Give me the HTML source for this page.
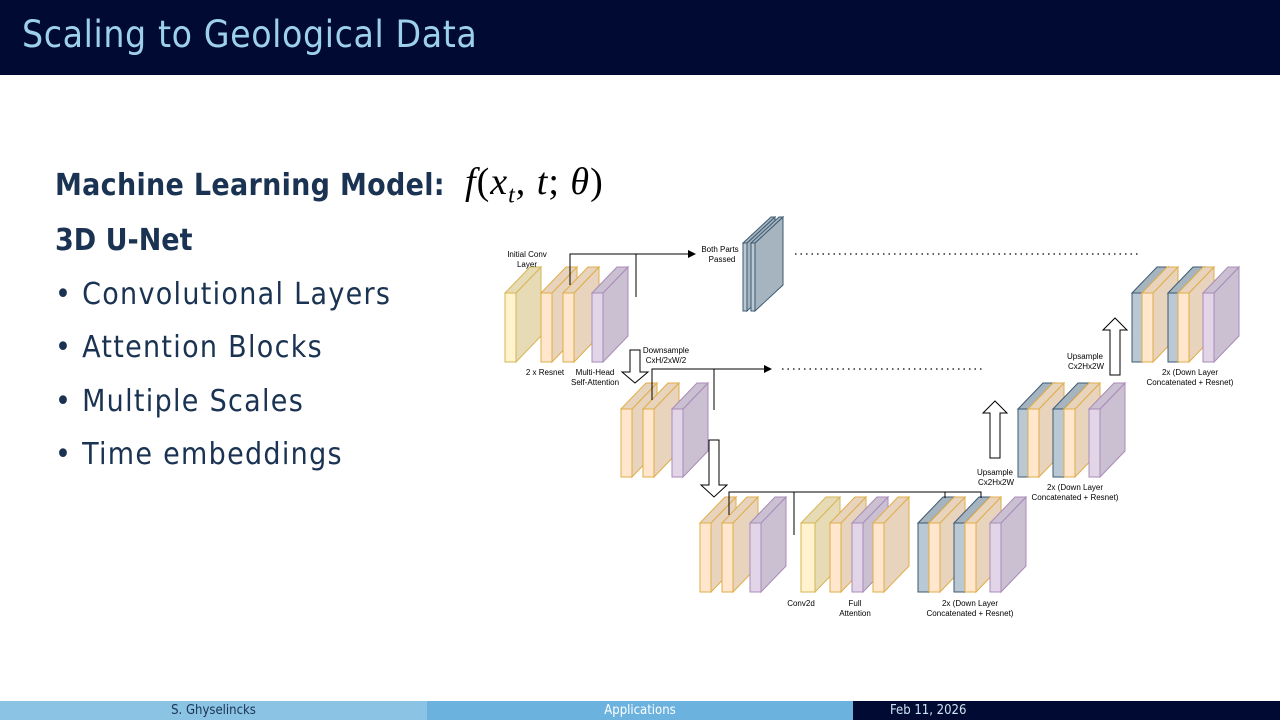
<!DOCTYPE html>
<html><head><meta charset="utf-8"><style>
body{margin:0;width:1280px;height:720px;overflow:hidden;background:#fff;font-family:"Liberation Sans",sans-serif;position:relative}
.title{position:absolute;left:0;top:0;width:1280px;height:75px;background:#000a33}
.title span{position:absolute;left:22px;top:13px;font-size:37px;color:#9dd0ea;font-family:"DejaVu Sans Condensed","Liberation Sans",sans-serif;letter-spacing:0.6px}
.t{position:absolute;color:#1b3352;font-family:"DejaVu Sans Condensed","Liberation Sans",sans-serif;white-space:nowrap}
.b{font-size:30px;letter-spacing:1.3px}
.foot{position:absolute;top:701px;height:19px;font-size:13px;text-align:center;line-height:19px;font-family:"DejaVu Sans Condensed","Liberation Sans",sans-serif}
</style></head><body>
<div class="title"><span>Scaling to Geological Data</span></div>
<div class="t" style="left:55px;top:168px;font-size:30px;font-weight:bold;letter-spacing:0.3px">Machine Learning Model:</div>
<div class="t" style="left:465px;top:160px;font-size:38px;font-family:'Liberation Serif',serif;color:#000;letter-spacing:1px"><i>f</i>(<i>x</i><sub style="font-size:24px"><i>t</i></sub>, <i>t</i>; <i>θ</i>)</div>
<div class="t" style="left:55px;top:223px;font-size:30px;font-weight:bold">3D U-Net</div>
<div class="t b" style="left:55px;top:277px">• Convolutional Layers</div>
<div class="t b" style="left:55px;top:330px">• Attention Blocks</div>
<div class="t b" style="left:55px;top:384px">• Multiple Scales</div>
<div class="t b" style="left:55px;top:437px">• Time embeddings</div>
<svg id="d" width="1280" height="720" style="position:absolute;left:0;top:0" font-family="Liberation Sans, sans-serif" font-size="8">
<defs><marker id="ah" markerWidth="8" markerHeight="8" refX="7" refY="4" orient="auto" markerUnits="userSpaceOnUse"><path d="M0,0 L8,4 L0,8 z" fill="#000"/></marker></defs>
<g id="slabs"></g>
<g stroke="#000" stroke-width="1" fill="none">
<path d="M570,285 V254 H695" marker-end="url(#ah)"/><path d="M636,254 V297"/>
<path d="M652,400 V369 H771" marker-end="url(#ah)"/><path d="M714,369 V410"/>
<path d="M729,515 V492 H981 V498"/><path d="M794,492 V535"/><path d="M945,492 V498"/>
</g>
<g stroke="#000" stroke-width="1.2" stroke-dasharray="1.5,4" fill="none">
<path d="M795,254 H1140"/><path d="M782,369 H985"/>
</g>
<g fill="#fff" stroke="#000" stroke-width="1">
<path d="M630,350 h10 v22 h8 l-13,11 l-13,-11 h8 z"/>
<path d="M709,440 h10 v45 h8 l-13,12 l-13,-12 h8 z"/>
<path d="M990,458 v-45 h-7 l12,-12 l12,12 h-7 v45 z"/>
<path d="M1110,375 v-45 h-7 l12,-12 l12,12 h-7 v45 z"/>
</g>
<g fill="#000" text-anchor="middle">
<text x="527" y="257">Initial Conv</text><text x="527" y="267">Layer</text>
<text x="545" y="375">2  x Resnet</text>
<text x="595" y="375">Multi-Head</text><text x="595" y="385">Self-Attention</text>
<text x="720" y="252">Both Parts</text><text x="722" y="262">Passed</text>
<text x="666" y="353">Downsample</text><text x="666" y="363">CxH/2xW/2</text>
<text x="801" y="606">Conv2d</text>
<text x="855" y="606">Full</text><text x="855" y="616">Attention</text>
<text x="970" y="606">2x (Down Layer</text><text x="970" y="616">Concatenated + Resnet)</text>
<text x="995" y="475">Upsample</text><text x="996" y="485">Cx2Hx2W</text>
<text x="1075" y="490">2x (Down Layer</text><text x="1075" y="500">Concatenated + Resnet)</text>
<text x="1085" y="359">Upsample</text><text x="1086" y="369">Cx2Hx2W</text>
<text x="1190" y="375">2x (Down Layer</text><text x="1190" y="385">Concatenated + Resnet)</text>
</g>
</svg>
<div class="foot" style="left:0;width:427px;background:#8bc3e4;color:#1b3352">S. Ghyselincks</div>
<div class="foot" style="left:427px;width:426px;background:#6cb2df;color:#fff">Applications</div>
<div class="foot" style="left:853px;width:427px;background:#000a33;color:#cfe3f5;text-align:left"><span style="margin-left:37px">Feb 11, 2026</span></div>
<script>
var C={y:["#fff2cc","#e6dbb5","#d6b656"],o:["#ffe6cc","#e8d3bd","#e0ad48"],p:["#e1d5e7","#cbbfd2","#a88bb8"],b:["#bac8d3","#a6b4bf","#3c5a72"]};
var g=document.getElementById('slabs'),s='';
function S(t,x,y,h,w,dx,dy){var c=C[t];w=w||11;dx=dx||25;dy=dy||26;
s+='<polygon points="'+(x+w)+','+y+' '+(x+w+dx)+','+(y-dy)+' '+(x+w+dx)+','+(y+h-dy)+' '+(x+w)+','+(y+h)+'" fill="'+c[1]+'" stroke="'+c[2]+'"/>';
s+='<polygon points="'+x+','+y+' '+(x+dx)+','+(y-dy)+' '+(x+w+dx)+','+(y-dy)+' '+(x+w)+','+y+'" fill="'+c[1]+'" stroke="'+c[2]+'"/>';
s+='<rect x="'+x+'" y="'+y+'" width="'+w+'" height="'+h+'" fill="'+c[0]+'" stroke="'+c[2]+'"/>';}
S('y',505,293,69);S('o',541,293,69);S('o',563,293,69);S('p',592,293,69);
S('b',743,243,68,4,28,26);S('b',751,243,68,4,28,26);
S('o',621,409,68);S('o',643,409,68);S('p',672,409,68);
S('o',700,523,69);S('o',722,523,69);S('p',750,523,69);
S('y',801,523,69,14);S('o',830,523,69);S('p',852,523,69);S('o',873,523,69);
S('b',918,523,69);S('o',929,523,69);S('b',954,523,69);S('o',965,523,69);S('p',990,523,69);
S('b',1018,409,68);S('o',1028,409,68);S('b',1053,409,68);S('o',1064,409,68);S('p',1089,409,68);
S('b',1132,293,69);S('o',1142,293,69);S('b',1168,293,69);S('o',1178,293,69);S('p',1203,293,69);
g.innerHTML=s;
</script>
</body></html>
